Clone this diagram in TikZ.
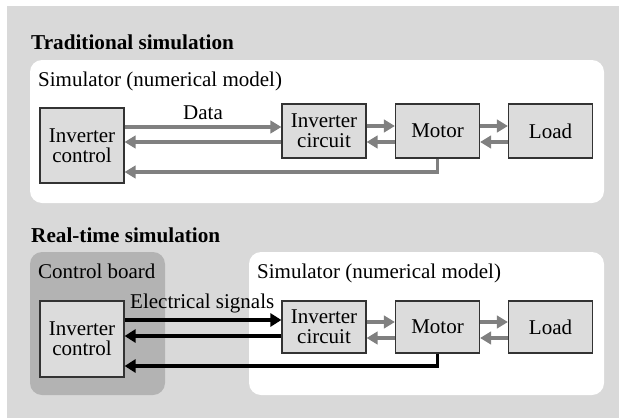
\documentclass[tikz,border=0pt]{standalone}
\usepackage{fontspec}
\setmainfont{Liberation Serif}
\usetikzlibrary{arrows.meta,calc}

\definecolor{bggray}{HTML}{D9D9D9}
\definecolor{boardgray}{HTML}{B3B3B3}
\definecolor{boxgray}{HTML}{DCDCDC}
\definecolor{arrgray}{HTML}{808080}

\begin{document}
\begin{tikzpicture}[x=1pt, y=-1pt]
        \tikzstyle{every node}=[font=\fontsize{21}{20}\selectfont, inner sep=0pt]
        \tikzstyle{blk}=[draw=black!80, fill=boxgray, line width=1.2pt, align=center, minimum width=84pt, minimum height=54pt]
        \tikzstyle{lbl}=[anchor=base west]
        \tikzstyle{head}=[anchor=base west, font=\fontsize{21.2}{21}\selectfont\bfseries]
        \tikzstyle{panel}=[rounded corners=12pt]
        \tikzstyle{garrow}=[arrgray, line width=3.8pt, -{Triangle[length=11pt, width=12.5pt]}]
        \tikzstyle{barrow}=[black, line width=3.8pt, -{Triangle[length=11pt, width=13pt]}]

        \useasboundingbox (0,0) rectangle (619,418);
        \fill[bggray] (7,6) rectangle (619,418);

        % traditional simulation
        \node[head] (title1) at (31,49) {Traditional simulation};
        \fill[white, panel] (30,60) rectangle (604,203);
        \node[lbl] (sim1) at (38,86) {Simulator (numerical model)};

        \node[blk, minimum height=75pt] (ctl1) at (82,145.5) {Inverter\\control};
        \node[blk] (inv1) at (324,131) {Inverter\\circuit};
        \node[blk] (mot1) at (437.5,131) {Motor};
        \node[blk] (load1) at (550.5,131) {Load};
        \node[anchor=base] (data) at (203,119) {Data};

        \draw[garrow] ($(ctl1.east |- inv1.west)+(0,-4)$) -- ($(inv1.west)+(0,-4)$);
        \draw[garrow] ($(inv1.west)+(0,11)$) -- ($(ctl1.east |- inv1.west)+(0,11)$);
        \draw[garrow] ($(inv1.east)+(0,-5)$) -- ($(mot1.west)+(0,-5)$);
        \draw[garrow] ($(mot1.west)+(0,11)$) -- ($(inv1.east)+(0,11)$);
        \draw[garrow] ($(mot1.east)+(0,-5)$) -- ($(load1.west)+(0,-5)$);
        \draw[garrow] ($(load1.west)+(0,11)$) -- ($(mot1.east)+(0,11)$);
        \draw[garrow] (mot1.south) |- ($(ctl1.east)+(0,26.5)$);

        % real-time simulation
        \node[head] (title2) at (31,242) {Real-time simulation};
        \fill[boardgray, panel] (30,252) rectangle (165,395);
        \fill[white, panel] (249,252) rectangle (604,395);
        \node[lbl] (board) at (38,278) {Control board};
        \node[lbl] (sim2) at (257,278) {Simulator (numerical model)};

        \node[blk, minimum height=76pt] (ctl2) at (82,339) {Inverter\\control};
        \node[blk, minimum height=52pt] (inv2) at (324,327) {Inverter\\circuit};
        \node[blk, minimum height=52pt] (mot2) at (437.5,327) {Motor};
        \node[blk, minimum height=52pt] (load2) at (550.5,327) {Load};
        \node[lbl] (sig) at (130,308) {Electrical signals};

        \draw[barrow] ($(ctl2.east |- inv2.west)+(0,-7)$) -- ($(inv2.west)+(0,-7)$);
        \draw[barrow] ($(inv2.west)+(0,9)$) -- ($(ctl2.east |- inv2.west)+(0,9)$);
        \draw[garrow] ($(inv2.east)+(0,-5)$) -- ($(mot2.west)+(0,-5)$);
        \draw[garrow] ($(mot2.west)+(0,11)$) -- ($(inv2.east)+(0,11)$);
        \draw[garrow] ($(mot2.east)+(0,-5)$) -- ($(load2.west)+(0,-5)$);
        \draw[garrow] ($(load2.west)+(0,11)$) -- ($(mot2.east)+(0,11)$);
        \draw[barrow] (mot2.south) |- ($(ctl2.east)+(0,27)$);
\end{tikzpicture}
\end{document}
